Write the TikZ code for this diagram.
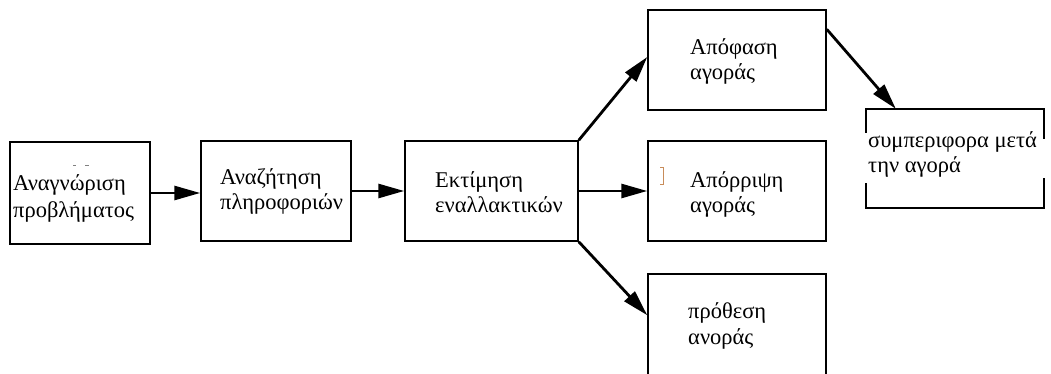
\documentclass[tikz,border=0pt]{standalone}
\usepackage{fontspec}
\setmainfont{Liberation Serif}
\usetikzlibrary{arrows.meta}
\definecolor{markbrown}{RGB}{200,140,90}
\begin{document}
\begin{tikzpicture}[x=1pt,y=-1pt,
  box/.style={draw=black,line width=1.5pt,rectangle,inner sep=0pt},
  lbl/.style={anchor=base west,inner sep=0pt,font=\fontsize{22.5}{27}\selectfont},
  flow/.style={line width=2.8pt,-{Triangle[length=26pt,width=14pt]}}]
\useasboundingbox (0,0) rectangle (1051,374);
\clip (0,0) rectangle (1051,374);
% process boxes
\node[box,minimum width=140pt,minimum height=102pt] (b1) at (80,193) {};
\node[box,minimum width=150pt,minimum height=100pt] (b2) at (276,191) {};
\node[box,minimum width=173pt,minimum height=100pt] (b3) at (491.5,191) {};
\node[box,minimum width=178pt,minimum height=100pt] (b4) at (737,60) {};
\node[box,minimum width=178pt,minimum height=100pt] (b5) at (737,191) {};
\node[box,minimum width=178pt,minimum height=130pt] (b6) at (737,339) {};
\node[inner sep=0pt,minimum width=178pt,minimum height=99pt] (b7) at (955,158.5) {};
% outline of the last box, broken where its text frame sits
\draw[line width=1.5pt] ([yshift=-24pt]b7.north west) -- (b7.north west) -- (b7.north east) -- ([yshift=-30pt]b7.north east);
\draw[line width=1.5pt] ([yshift=25pt]b7.south west) -- (b7.south west) -- (b7.south east) -- ([yshift=30pt]b7.south east);
% labels
\node[lbl] (t1a) at (13,190) {Αναγνώριση};
\node[lbl] (t1b) at (13,217) {προβλήματος};
\node[lbl] (t2a) at (220,185) {Αναζήτηση};
\node[lbl] (t2b) at (220,209) {πληροφοριών};
\node[lbl] (t3a) at (435,187) {Εκτίμηση};
\node[lbl] (t3b) at (435,212) {εναλλακτικών};
\node[lbl] (t4a) at (690,55) {Απόφαση};
\node[lbl] (t4b) at (690,80) {αγοράς};
\node[lbl] (t5a) at (690,187) {Απόρριψη};
\node[lbl] (t5b) at (690,212) {αγοράς};
\node[lbl] (t6a) at (688,318) {πρόθεση};
\node[lbl] (t6b) at (688,344) {ανοράς};
\node[lbl] (t7a) at (868,148) {συμπεριφορα μετά};
\node[lbl] (t7b) at (868,173) {την αγορά};
% stray marks
\draw[gray,line width=1pt] (73,165.5) -- (76,165.5) (85,165.5) -- (89,165.5);
\draw[markbrown,line width=1pt] (660,167.5) -- (663,167.5) -- (663,184.5) -- (660,184.5);
% connectors
\draw[flow] (b1.east) -- (b1.east -| b2.west);
\draw[flow] (b2.east) -- (b3.west);
\draw[flow] (b3.east) -- (b5.west);
\draw[flow] (b3.north east) -- ([yshift=3pt]b4.west);
\draw[flow] (b3.south east) -- ([yshift=-42pt]b6.north west);
\draw[flow] ([yshift=-20pt]b4.north east) -- ([xshift=30pt]b7.north west);
\end{tikzpicture}
\end{document}
